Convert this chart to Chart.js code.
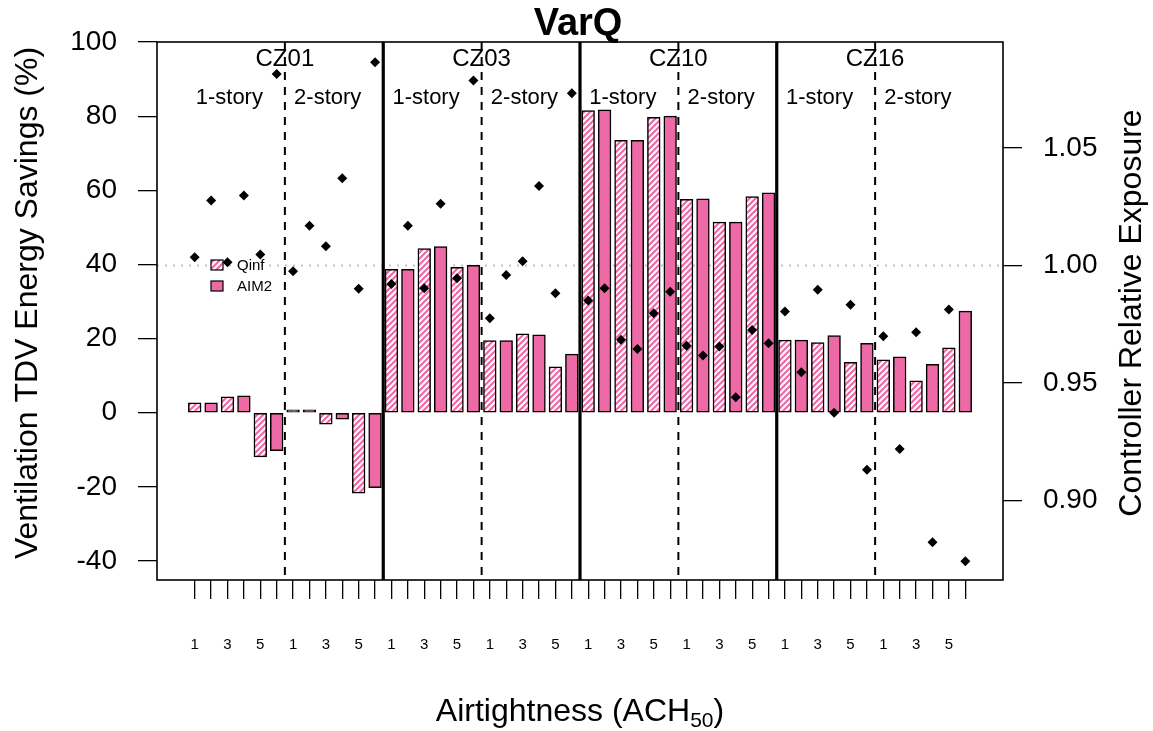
<!DOCTYPE html>
<html>
<head>
<meta charset="utf-8">
<script src="https://cdn.jsdelivr.net/npm/chart.js@4.4.1/dist/chart.umd.min.js"></script>
<style>
  html, body { margin: 0; padding: 0; background: #ffffff; }
  canvas { display: block; }
</style>
</head>
<body>
<canvas id="chart" width="1153" height="731"></canvas>
<script>
// ---- data -------------------------------------------------------------
const zones = ['CZ01', 'CZ03', 'CZ10', 'CZ16'];
const stories = ['1-story', '2-story'];
const achLevels = ['1', '3', '5'];
const methods = ['Qinf', 'AIM2'];

// Ventilation TDV energy savings (%), ordered zone -> story -> ACH50 (1, 3, 5)
const qinfSavings = [
  2.7, 4.3, -11.9,   0.8, -3.1, -21.7,
  38.7, 44.3, 39.2,  19.5, 21.3, 12.4,
  81.5, 73.5, 79.7,  57.6, 51.4, 58.3,
  19.6, 18.9, 13.6,  14.3, 8.6, 17.5
];
const aim2Savings = [
  2.7, 4.6, -10.2,   0.8, -1.7, -20.2,
  38.7, 44.8, 39.8,  19.5, 21.0, 15.8,
  81.7, 73.5, 80.0,  57.7, 51.4, 59.3,
  19.6, 20.8, 18.7,  15.1, 13.1, 27.4
];

// Controller relative exposure, one value per bar (Qinf, AIM2 alternating)
const exposure = [
  1.0035, 1.0277, 1.0014, 1.0298, 1.0047, 1.0816,
  0.9976, 1.0170, 1.0082, 1.0372, 0.9901, 1.0866,
  0.9922, 1.0170, 0.9903, 1.0263, 0.9946, 1.0788,
  0.9776, 0.9960, 1.0018, 1.0339, 0.9882, 1.0734,
  0.9851, 0.9903, 0.9684, 0.9645, 0.9797, 0.9889,
  0.9659, 0.9617, 0.9655, 0.9439, 0.9726, 0.9669,
  0.9804, 0.9546, 0.9897, 0.9373, 0.9833, 0.9130,
  0.9699, 0.9219, 0.9716, 0.8822, 0.9813, 0.8741
];

const leftTicks = [-40, -20, 0, 20, 40, 60, 80, 100];
const rightTicks = [0.90, 0.95, 1.00, 1.05];

// ---- derived structures -----------------------------------------------
const nBars = qinfSavings.length * 2;
const barPos = Array.from({ length: nBars }, (_, i) => i);
const tickLabels = barPos.map(i => (i % 2 === 0 ? achLevels[(i % 6) / 2] : ''));
const qinfData = qinfSavings.map((v, k) => ({ x: 2 * k, y: v }));
const aim2Data = aim2Savings.map((v, k) => ({ x: 2 * k + 1, y: v }));
const exposureData = exposure.map((v, i) => ({ x: i, y: v }));

const PINK = '#EE6AA7';
const FONT = "'Liberation Sans', Arial, Helvetica, sans-serif";

function hatchPattern() {
  const s = 6;
  const c = document.createElement('canvas');
  c.width = s; c.height = s;
  const g = c.getContext('2d');
  g.fillStyle = '#ffffff';
  g.fillRect(0, 0, s, s);
  g.strokeStyle = PINK;
  g.lineWidth = 2.2;
  g.beginPath();
  g.moveTo(-1, s + 1); g.lineTo(s + 1, -1);
  g.moveTo(-1, 1); g.lineTo(1, -1);
  g.moveTo(s - 1, s + 1); g.lineTo(s + 1, s - 1);
  g.stroke();
  return g.createPattern(c, 'repeat');
}
const hatch = hatchPattern();

// ---- annotations: separators, reference line, labels, legend ----------
const annotations = {
  id: 'annotations',
  beforeDatasetsDraw(chart) {
    const { ctx, chartArea: a, scales: { y2 } } = chart;
    ctx.save();
    // dotted reference line at exposure 1.00
    const yr = y2.getPixelForValue(1.0);
    ctx.strokeStyle = '#c4c4c4';
    ctx.lineWidth = 2;
    ctx.setLineDash([2, 6]);
    ctx.beginPath(); ctx.moveTo(a.left, yr); ctx.lineTo(a.right, yr); ctx.stroke();
    ctx.restore();
  },
  afterDatasetsDraw(chart) {
    const { ctx, chartArea: a, scales: { x } } = chart;
    ctx.save();
    ctx.strokeStyle = '#000';
    for (let g = 1; g < zones.length * stories.length; g++) {
      const px = x.getPixelForValue(g * 6 - 0.5);
      ctx.beginPath();
      if (g % 2 === 1) { ctx.lineWidth = 2; ctx.setLineDash([8, 7]); }
      else { ctx.lineWidth = 3.2; ctx.setLineDash([]); }
      ctx.moveTo(px, a.top); ctx.lineTo(px, a.bottom); ctx.stroke();
    }
    ctx.restore();
  },
  afterDraw(chart) {
    const { ctx, chartArea: a, scales: { x } } = chart;
    ctx.save();
    ctx.setLineDash([]);
    // plot frame
    ctx.strokeStyle = '#000';
    ctx.lineWidth = 1.6;
    ctx.strokeRect(a.left, a.top, a.right - a.left, a.bottom - a.top);

    ctx.fillStyle = '#000';
    // title
    ctx.font = `bold 38px ${FONT}`;
    ctx.textAlign = 'center';
    ctx.textBaseline = 'middle';
    ctx.fillText('VarQ', 578, 25);

    // zone and story labels
    ctx.textBaseline = 'alphabetic';
    zones.forEach((z, zi) => {
      ctx.font = `24px ${FONT}`;
      ctx.textAlign = 'center';
      ctx.fillText(z, x.getPixelForValue(zi * 12 + 5.5), 66);
      ctx.font = `22px ${FONT}`;
      ctx.textAlign = 'left';
      stories.forEach((s, si) => {
        ctx.fillText(s, x.getPixelForValue(zi * 12 + si * 6) + 1, 104);
      });
    });

    // legend
    const lx = 211, ly = [260, 281];
    methods.forEach((m, mi) => {
      ctx.fillStyle = mi === 0 ? hatch : PINK;
      ctx.fillRect(lx, ly[mi], 12, 10);
      ctx.strokeStyle = '#000';
      ctx.lineWidth = 1.2;
      ctx.strokeRect(lx, ly[mi], 12, 10);
      ctx.fillStyle = '#000';
      ctx.font = `15px ${FONT}`;
      ctx.textAlign = 'left';
      ctx.textBaseline = 'middle';
      ctx.fillText(m, 237, ly[mi] + 5.5);
    });

    // x axis title with subscript
    ctx.textBaseline = 'alphabetic';
    ctx.textAlign = 'left';
    const main = 'Airtightness (ACH', sub = '50', close = ')';
    ctx.font = `32px ${FONT}`;
    const w1 = ctx.measureText(main).width, w3 = ctx.measureText(close).width;
    ctx.font = `21px ${FONT}`;
    const w2 = ctx.measureText(sub).width;
    let sx = (a.left + a.right) / 2 - (w1 + w2 + w3) / 2;
    ctx.font = `32px ${FONT}`;
    ctx.fillText(main, sx, 721);
    ctx.font = `21px ${FONT}`;
    ctx.fillText(sub, sx + w1, 727);
    ctx.font = `32px ${FONT}`;
    ctx.fillText(close, sx + w1 + w2, 721);

    // y axis titles
    ctx.textAlign = 'center';
    ctx.textBaseline = 'middle';
    ctx.font = `32px ${FONT}`;
    ctx.translate(28, 303);
    ctx.rotate(-Math.PI / 2);
    ctx.fillText('Ventilation TDV Energy Savings (%)', 0, 0);
    ctx.setTransform(1, 0, 0, 1, 0, 0);
    ctx.translate(1132, 313);
    ctx.rotate(-Math.PI / 2);
    ctx.fillText('Controller Relative Exposure', 0, 0);
    ctx.restore();
  }
};

Chart.defaults.color = '#000';
Chart.defaults.font.family = FONT;

const barCommon = {
  type: 'bar',
  xAxisID: 'x',
  yAxisID: 'y',
  grouped: false,
  barThickness: 12.7,
  borderColor: '#000',
  borderWidth: 1.5,
  borderSkipped: false,
  order: 2
};

new Chart(document.getElementById('chart'), {
  data: {
    datasets: [
      { ...barCommon, label: methods[0], data: qinfData, backgroundColor: hatch },
      { ...barCommon, label: methods[1], data: aim2Data, backgroundColor: PINK },
      {
        type: 'scatter',
        label: 'Relative exposure',
        data: exposureData,
        xAxisID: 'x',
        yAxisID: 'y2',
        pointStyle: 'rectRot',
        pointRadius: 5,
        pointBackgroundColor: '#000',
        pointBorderWidth: 0,
        order: 1
      }
    ]
  },
  options: {
    responsive: false,
    animation: false,
    devicePixelRatio: 1,
    layout: { padding: { top: 42, left: 0, right: 0, bottom: 0 } },
    plugins: { legend: { display: false }, title: { display: false }, tooltip: { enabled: false } },
    scales: {
      x: {
        type: 'linear',
        position: 'bottom',
        offset: false,
        min: -2.3,
        max: 49.3,
        afterBuildTicks: s => { s.ticks = barPos.map(v => ({ value: v })); },
        afterFit: s => { s.height = 151; },
        ticks: {
          autoSkip: false,
          maxRotation: 0,
          padding: 37,
          font: { size: 15 },
          callback: (v, i) => tickLabels[i]
        },
        grid: { offset: false, drawOnChartArea: false, drawTicks: true, tickLength: 19, color: '#000', lineWidth: 1.3 },
        border: { display: false }
      },
      y: {
        type: 'linear',
        position: 'left',
        min: -45.1,
        max: 100,
        afterBuildTicks: s => { s.ticks = leftTicks.map(v => ({ value: v })); },
        afterFit: s => { s.width = 157; },
        ticks: { padding: 21, font: { size: 28 } },
        grid: { drawOnChartArea: false, drawTicks: true, tickLength: 19, color: '#000', lineWidth: 1.3 },
        border: { display: false }
      },
      y2: {
        type: 'linear',
        position: 'right',
        min: 0.8661,
        max: 1.0952,
        afterBuildTicks: s => { s.ticks = rightTicks.map(v => ({ value: v })); },
        afterFit: s => { s.width = 150; },
        ticks: { padding: 21, font: { size: 28 }, callback: v => v.toFixed(2) },
        grid: { drawOnChartArea: false, drawTicks: true, tickLength: 19, color: '#000', lineWidth: 1.3 },
        border: { display: false }
      }
    }
  },
  plugins: [annotations]
});
</script>
</body>
</html>
